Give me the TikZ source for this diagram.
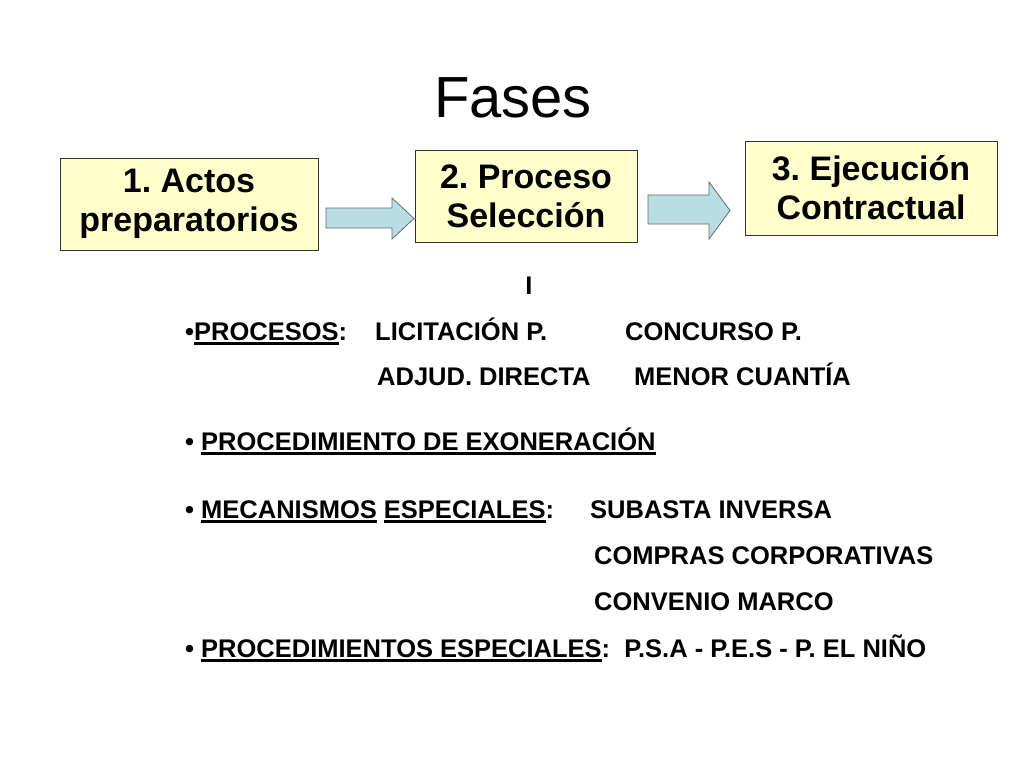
\documentclass[tikz,border=0pt]{standalone}
\usepackage{fontspec}
\setmainfont{Liberation Sans}
\frenchspacing
\newcommand\myul[1]{\setbox0\hbox{#1}\rlap{\rule[-4.5pt]{\wd0}{2.2pt}}\box0}
\definecolor{boxfill}{HTML}{FFFFCC}
\definecolor{arrfill}{HTML}{B9DDE2}
\definecolor{arrline}{HTML}{5E6E70}
\begin{document}
\begin{tikzpicture}[x=1pt,y=-1pt,
  phase/.style={draw=black!80,line width=0.8pt,fill=boxfill,align=center,inner sep=0pt,
    font=\fontsize{34}{39}\selectfont\bfseries},
  blockarrow/.style={draw=arrline,line width=0.8pt,fill=arrfill},
  txt/.style={anchor=base west,inner sep=0pt,font=\fontsize{25.5}{30}\selectfont\bfseries}]
\useasboundingbox (0,0) rectangle (1024,768);
\fill[white] (0,0) rectangle (1024,768);
\node[anchor=base,inner sep=0pt,font=\fontsize{58}{66}\selectfont] (title) at (513,117) {Fases};
\node[phase,minimum width=258pt,minimum height=92pt] (b1) at (189,204) {1. Actos\\preparatorios};
\node[phase,minimum width=222pt,minimum height=92pt] (b2) at (526,196) {2. Proceso\\Selección};
\node[phase,minimum width=252pt,minimum height=94pt] (b3) at (871,188) {3. Ejecución\\Contractual};
\draw[blockarrow] (326,208) -- (392,208) -- (392,198) -- (414,218.5) -- (392,239) -- (392,228) -- (326,228) -- cycle;
\draw[blockarrow] (648,195) -- (709,195) -- (709,182) -- (730,210.5) -- (709,239) -- (709,224) -- (648,224) -- cycle;
\node[anchor=base,inner sep=0pt,font=\fontsize{25.5}{30}\selectfont\bfseries] (i) at (529,294) {I};
\node[txt] (p1) at (185,340) {•\myul{PROCESOS}:};
\node[txt] (p2) at (375,340) {LICITACIÓN P.};
\node[txt] (p3) at (625,340) {CONCURSO P.};
\node[txt] (p4) at (377,385) {ADJUD. DIRECTA};
\node[txt] (p5) at (634,385) {MENOR CUANTÍA};
\node[txt] (e1) at (185,450) {• \myul{PROCEDIMIENTO DE EXONERACIÓN}};
\node[txt] (m1) at (185,518) {• \myul{MECANISMOS}\ \myul{ESPECIALES}:};
\node[txt] (m2) at (590,518) {SUBASTA INVERSA};
\node[txt] (m3) at (594,564) {COMPRAS CORPORATIVAS};
\node[txt] (m4) at (594,610) {CONVENIO MARCO};
\node[txt] (s1) at (185,657) {• \myul{PROCEDIMIENTOS ESPECIALES}:\ \ P.S.A - P.E.S - P. EL NIÑO};
\end{tikzpicture}
\end{document}
